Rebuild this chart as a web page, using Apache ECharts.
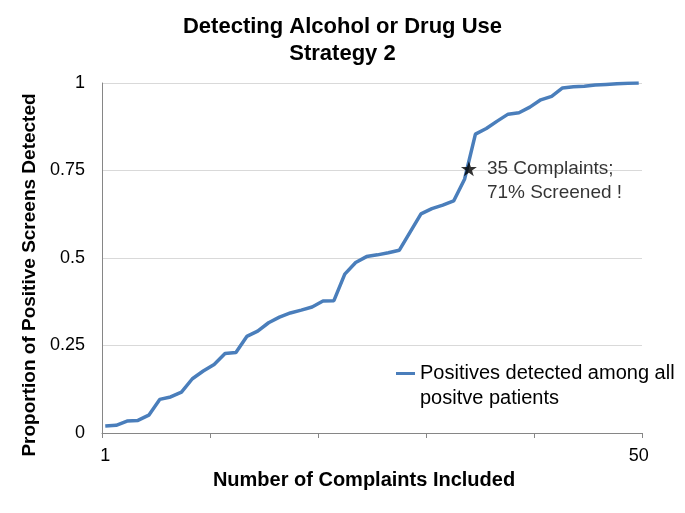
<!DOCTYPE html>
<html>
<head>
<meta charset="utf-8">
<script src="https://cdn.jsdelivr.net/npm/echarts@6/dist/echarts.min.js"></script>
<style>
  html, body { margin: 0; padding: 0; background: #fff; }
  #chart { width: 685px; height: 513px; }
</style>
</head>
<body>
<div id="chart"></div>
<script>
// ---- data ----
const complaints = Array.from({length: 50}, (_, i) => i + 1); // 1..50
const proportionDetected = [
  0.020, 0.022, 0.034, 0.036, 0.051, 0.096, 0.103, 0.117, 0.155, 0.177,
  0.196, 0.227, 0.230, 0.276, 0.291, 0.315, 0.331, 0.343, 0.351, 0.360,
  0.377, 0.378, 0.454, 0.487, 0.504, 0.509, 0.515, 0.522, 0.574, 0.626,
  0.641, 0.651, 0.663, 0.725, 0.854, 0.870, 0.891, 0.911, 0.915, 0.931,
  0.952, 0.962, 0.986, 0.989, 0.991, 0.994, 0.996, 0.998, 0.999, 1.000
];
const xTickLabels = [1, 50];
const yTickValues = [0, 0.25, 0.5, 0.75, 1];
const annotationPoint = [34.4, 0.755];
const annotationText = '35 Complaints;\n71% Screened !';
const seriesName = 'Positives detected among all\npositve patients';
const titleText = 'Detecting Alcohol or Drug Use\nStrategy 2';
const xAxisTitle = 'Number of Complaints Included';
const yAxisTitle = 'Proportion of Positive Screens Detected';

// ---- chart ----
const FONT = "'Liberation Sans', Arial, sans-serif";
const xMin = 0.7, xMax = 50.3;
const xTicks = [];
for (let k = 0; k <= 5; k++) xTicks.push(xMin + k * (xMax - xMin) / 5);

const chart = echarts.init(document.getElementById('chart'), null, {renderer: 'canvas'});
const starPath = 'path://M50,0 L61.8,35.1 L98.1,35.1 L68.8,56.7 L79.4,91.3 L50,70 L20.6,91.3 L31.2,56.7 L1.9,35.1 L38.2,35.1 Z';

chart.setOption({
  animation: false,
  backgroundColor: '#ffffff',
  textStyle: { fontFamily: FONT },
  title: {
    text: titleText,
    left: 'center',
    top: 8,
    textStyle: { fontFamily: FONT, fontSize: 22, fontWeight: 'bold', color: '#000', lineHeight: 27 }
  },
  grid: { left: 102, right: 43, top: 83, bottom: 80, containLabel: false },
  legend: {
    data: [{ name: seriesName, icon: 'rect' }],
    formatter: name => ' \n' + name,
    left: 396,
    top: 336,
    padding: 0,
    itemWidth: 19,
    itemHeight: 3,
    textStyle: { fontFamily: FONT, fontSize: 20, color: '#000', lineHeight: 25 }
  },
  xAxis: {
    type: 'value',
    min: xMin,
    max: xMax,
    name: xAxisTitle,
    nameLocation: 'middle',
    nameGap: 31,
    nameTextStyle: { fontFamily: FONT, fontSize: 20, fontWeight: 'bold', color: '#000', lineHeight: 22, padding: [0, 16, 0, 0] },
    axisLine: { show: true, onZero: false, lineStyle: { color: '#868686', width: 1 } },
    axisTick: { show: true, length: 5, inside: false, customValues: xTicks, lineStyle: { color: '#868686' } },
    axisLabel: { customValues: xTickLabels, fontFamily: FONT, fontSize: 18, color: '#000', margin: 14 },
    splitLine: { show: false }
  },
  yAxis: {
    type: 'value',
    min: 0,
    max: 1,
    interval: 0.25,
    name: yAxisTitle,
    nameLocation: 'middle',
    nameGap: 62,
    nameTextStyle: { fontFamily: FONT, fontSize: 19, fontWeight: 'bold', color: '#000', padding: [0, 34, 0, 0] },
    axisLine: { show: true, lineStyle: { color: '#868686', width: 1 } },
    axisTick: { show: false },
    axisLabel: {
      fontFamily: FONT, fontSize: 18, color: '#000', margin: 17,
      customValues: yTickValues,
      formatter: v => String(+v.toFixed(2))
    },
    splitLine: { show: true, lineStyle: { color: '#D9D9D9', width: 1 } }
  },
  series: [
    {
      name: seriesName,
      type: 'line',
      data: complaints.map((c, i) => [c, proportionDetected[i]]),
      showSymbol: false,
      symbol: 'none',
      lineStyle: { color: '#4A7EBB', width: 3.5 },
      itemStyle: { color: '#4A7EBB' },
      z: 2
    },
    {
      name: 'annotation',
      type: 'scatter',
      data: [annotationPoint],
      symbol: starPath,
      symbolSize: [16, 15],
      itemStyle: { color: '#000' },
      z: 5,
      label: {
        show: true,
        position: 'right',
        distance: 10,
        offset: [0, 12],
        formatter: annotationText,
        fontFamily: FONT,
        fontSize: 19,
        lineHeight: 24,
        color: '#000'
      }
    }
  ]
});
</script>
</body>
</html>
